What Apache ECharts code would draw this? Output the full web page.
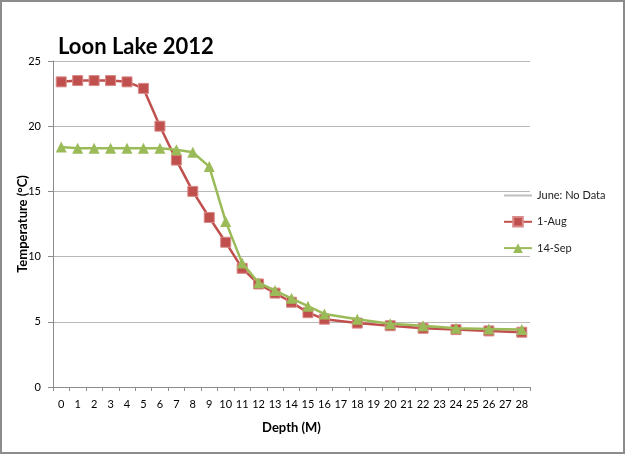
<!DOCTYPE html>
<html>
<head>
<meta charset="utf-8">
<script src="https://cdn.jsdelivr.net/npm/echarts@6/dist/echarts.min.js"></script>
<style>
  html, body { margin: 0; padding: 0; background: #fff; }
  #chart { width: 625px; height: 454px; box-sizing: border-box; border: 2px solid #8c8c8c; }
</style>
</head>
<body>
<div id="chart"></div>
<script>
// depth categories 0..28 m, measurements only every 2 m below 16 m
const depths = ['0','1','2','3','4','5','6','7','8','9','10','11','12','13','14','15','16','17','18','19','20','21','22','23','24','25','26','27','28']
const aug1 = [23.4,23.5,23.5,23.5,23.4,22.9,20.0,17.4,15.0,13.0,11.1,9.1,7.9,7.2,6.5,5.7,5.2,null,4.9,null,4.7,null,4.5,null,4.4,null,4.3,null,4.2]
const sep14 = [18.4,18.3,18.3,18.3,18.3,18.3,18.3,18.2,18.0,16.9,12.7,9.5,8.0,7.4,6.8,6.2,5.6,null,5.2,null,4.85,null,4.7,null,4.5,null,4.45,null,4.4]
const june = []
const yTicks = [0,5,10,15,20,25]

const font = 'Lato, "Open Sans", sans-serif'
const myChart = echarts.init(document.getElementById('chart'))
const option = {
  animation: false,
  textStyle: { fontFamily: font },
  title: {
    text: 'Loon Lake 2012',
    left: 51,
    top: 29,
    textStyle: { color: '#000', fontSize: 22, fontWeight: 'bold', fontFamily: font }
  },
  grid: { left: 51, top: 59, right: 93, bottom: 65 },
  legend: {
    orient: 'vertical',
    left: 496,
    top: 183,
    itemGap: 15,
    itemWidth: 28,
    itemHeight: 12,
    textStyle: { color: '#222', fontSize: 11, fontFamily: font },
    data: [
      { name: 'June: No Data', icon: 'path://M0,0H28V2H0Z' },
      '1-Aug',
      '14-Sep'
    ]
  },
  xAxis: {
    type: 'category',
    data: depths,
    boundaryGap: true,
    name: 'Depth (M)',
    nameLocation: 'middle',
    nameGap: 34,
    nameTextStyle: { color: '#000', fontSize: 13, fontWeight: 'bold' },
    axisLine: { lineStyle: { color: '#8c8c8c', width: 1 } },
    axisTick: { show: true, alignWithLabel: false, length: 4, lineStyle: { color: '#8c8c8c' } },
    axisLabel: { interval: 0, color: '#000', fontSize: 11, margin: 12 }
  },
  yAxis: {
    type: 'value',
    min: yTicks[0],
    max: yTicks[yTicks.length - 1],
    interval: 5,
    name: 'Temperature (°C)',
    nameLocation: 'middle',
    nameGap: 24,
    nameMoveOverlap: false,
    nameRotate: 90,
    nameTextStyle: { color: '#000', fontSize: 13, fontWeight: 'bold' },
    axisLine: { show: true, lineStyle: { color: '#8c8c8c', width: 1 } },
    axisTick: { show: true, length: 5, lineStyle: { color: '#8c8c8c' } },
    axisLabel: { color: '#000', fontSize: 11, margin: 12 },
    splitLine: { show: true, lineStyle: { color: '#b8b8b8', width: 1 } }
  },
  series: [
    {
      name: 'June: No Data',
      type: 'line',
      data: june,
      symbol: 'none',
      color: '#bfbfbf',
      lineStyle: { width: 1.5, color: '#bfbfbf' }
    },
    {
      name: '1-Aug',
      type: 'line',
      data: aug1,
      connectNulls: true,
      symbol: 'rect',
      symbolSize: 10,
      color: '#C0504D',
      lineStyle: { width: 2.5, color: '#C0504D' },
      itemStyle: { color: '#C0504D', borderColor: '#d98a88', borderWidth: 1 },
      z: 2
    },
    {
      name: '14-Sep',
      type: 'line',
      data: sep14,
      connectNulls: true,
      symbol: 'triangle',
      symbolSize: 11,
      color: '#9BBB59',
      lineStyle: { width: 2.5, color: '#9BBB59' },
      itemStyle: { color: '#9BBB59' },
      z: 3
    }
  ]
}
myChart.setOption(option)
window.addEventListener('resize', () => { myChart.resize() })
</script>
</body>
</html>
